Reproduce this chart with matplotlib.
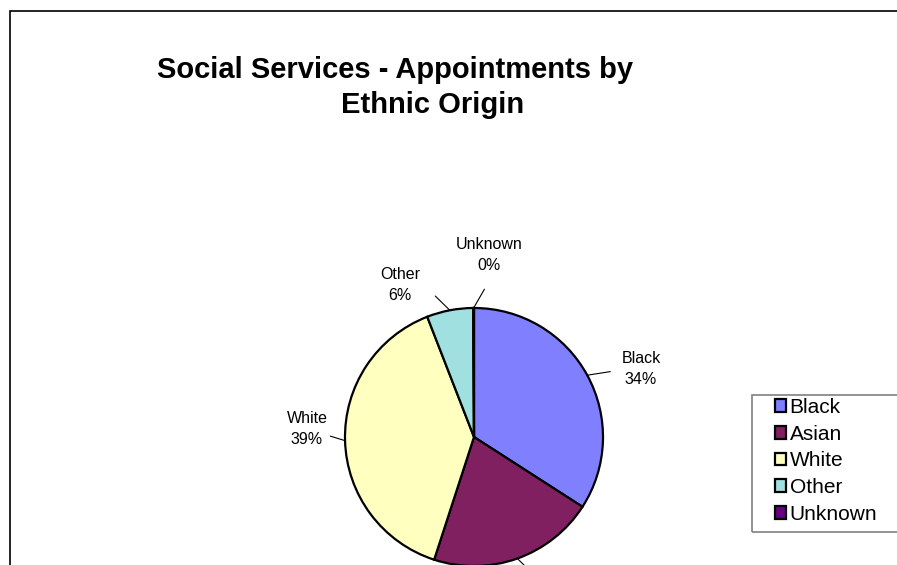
import numpy as np
import matplotlib.pyplot as plt
from matplotlib.patches import Rectangle

plt.rcParams['font.family'] = ['Liberation Sans', 'DejaVu Sans']

categories = ["Black", "Asian", "White", "Other", "Unknown"]
shares = [34.1, 20.9, 39.1, 5.8, 0.1]
colors = ["#8080FF", "#802060", "#FFFFC0", "#A0E0E0", "#660080"]

# label layout in pixels (x, y from top) and leader style
label_pos = [(641, 369), (535, 602), (307, 429), (400, 285), (489, 255)]
label_conn = [
    dict(relpos=(0.0, 0.45), angleA=180, armA=6, shrinkA=6),
    dict(relpos=(0.5, 1.0), angleA=90, armA=8, shrinkA=6),
    dict(relpos=(0.5, 0.45), angleA=0, armA=6, shrinkA=0),
    dict(relpos=(1.0, 0.5), angleA=0, armA=4, shrinkA=12),
    dict(relpos=(0.5, 0.0), angleA=-90, armA=8, shrinkA=10),
]

W, H = 897, 565
fig = plt.figure(figsize=(W / 100, H / 100), dpi=100)
ax = fig.add_axes([0, 0, 1, 1])

cx, cy, r = 474, H - 437, 129
wedges, _ = ax.pie(shares, colors=colors, startangle=90, counterclock=False,
                   center=(cx, cy), radius=r,
                   wedgeprops=dict(edgecolor="black", linewidth=1.6))
ax.set_xlim(0, W)
ax.set_ylim(0, H)
ax.axis("off")

for w, cat, val, pos, conn in zip(wedges, categories, shares, label_pos, label_conn):
    mid = np.deg2rad((w.theta1 + w.theta2) / 2)
    edge = (cx + r * np.cos(mid), cy + r * np.sin(mid))
    ax.annotate(f"{cat}\n{round(val):.0f}%", xy=edge, xytext=(pos[0], H - pos[1]),
                ha="center", va="center", fontsize=11.5, linespacing=1.55,
                annotation_clip=False,
                arrowprops=dict(arrowstyle="-", color="black", lw=0.8,
                                shrinkB=0, shrinkA=conn["shrinkA"],
                                relpos=conn["relpos"],
                                connectionstyle=f"arc,angleA={conn['angleA']},armA={conn['armA']},angleB=0,armB=0,rad=0"))

# title (two lines, as laid out in the original)
ax.text(395, H - 70, "Social Services - Appointments by",
        ha="center", va="center", fontsize=21, fontweight="bold")
ax.text(433, H - 105, "Ethnic Origin",
        ha="center", va="center", fontsize=21, fontweight="bold")

# outer chart frame (left and top edges visible)
ax.add_patch(Rectangle((10, -20), 1000, H - 11 + 20, fill=False,
                       edgecolor="black", linewidth=1.2, clip_on=False))

# legend frame
ax.add_patch(Rectangle((752, H - 532), 200, 137, fill=False,
                       edgecolor="#808080", linewidth=1.2, clip_on=False))
leg = ax.legend(wedges, categories, loc="upper left",
                bbox_to_anchor=(775 / W, 1 - 398 / H), frameon=False,
                fontsize=15, handlelength=0.55, handleheight=0.55,
                handletextpad=0.15, labelspacing=0.37, borderpad=0,
                borderaxespad=0)

fig.savefig("out.png", dpi=100)
